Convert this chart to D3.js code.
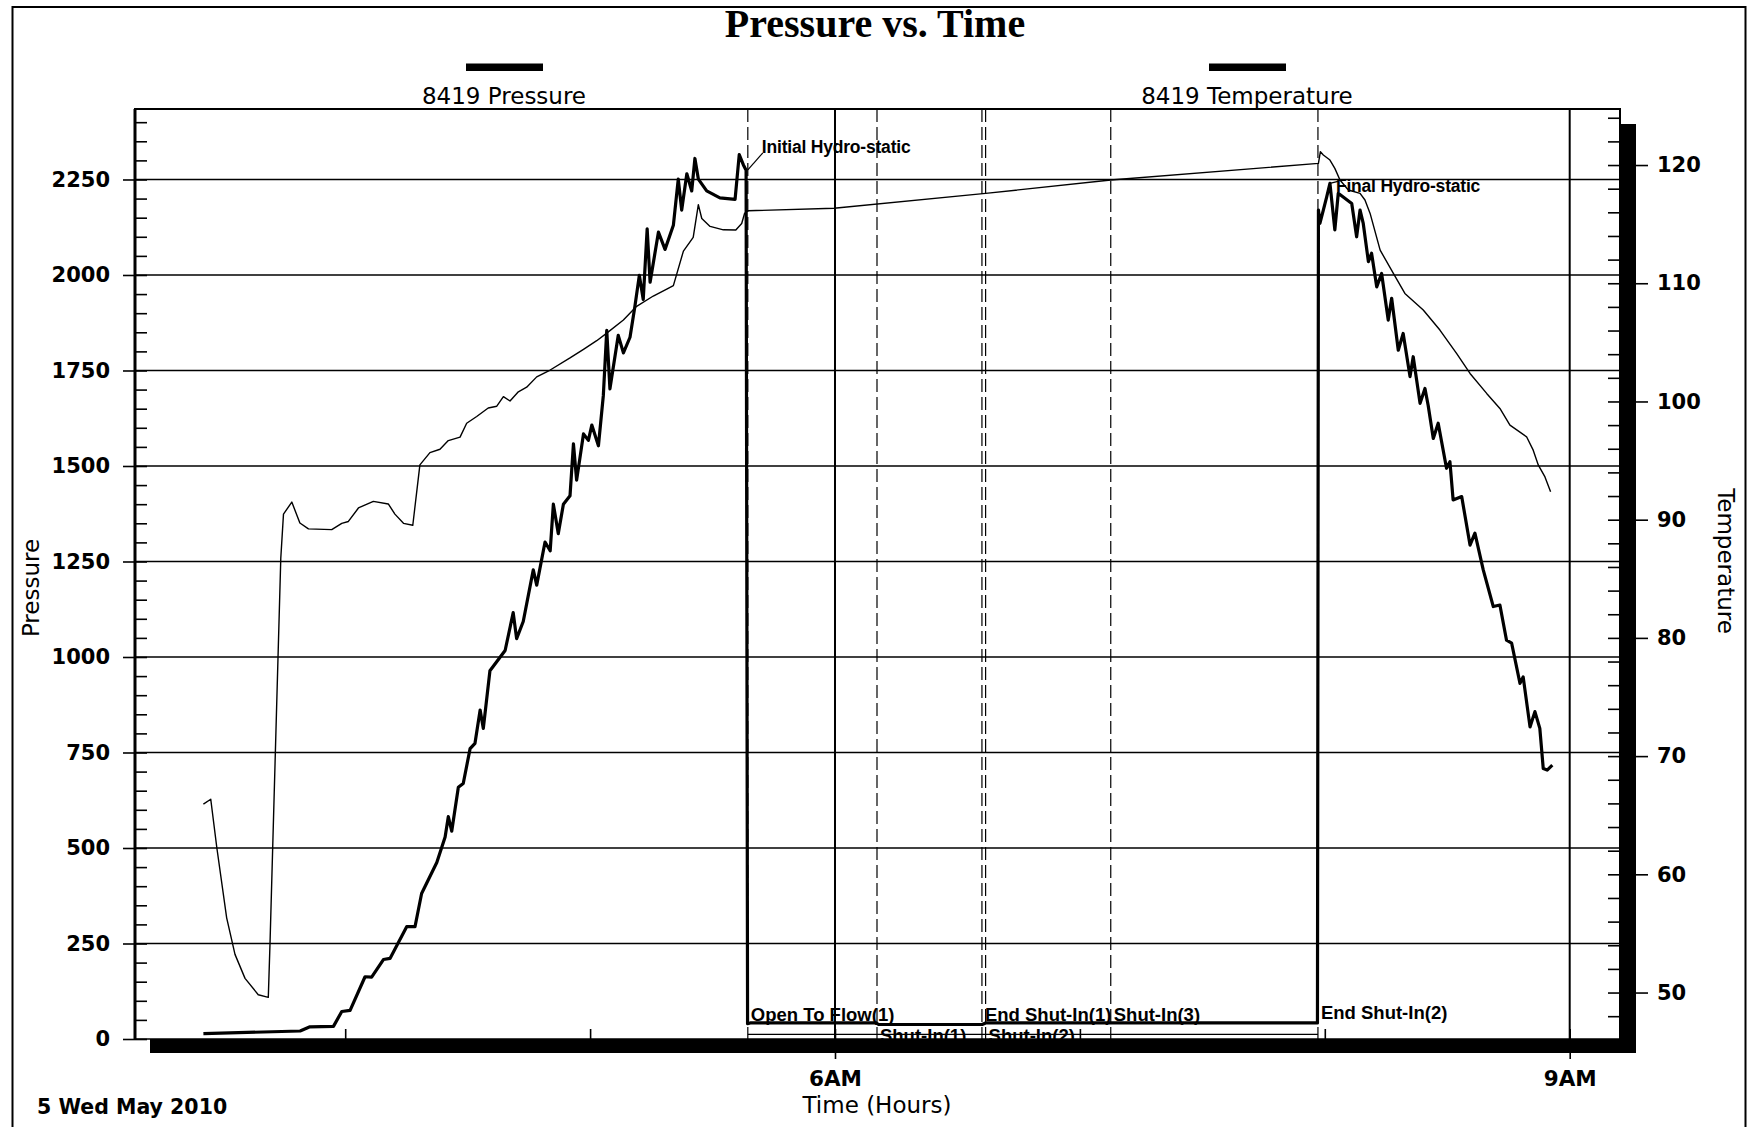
<!DOCTYPE html>
<html><head><meta charset="utf-8">
<script src="https://cdn.jsdelivr.net/npm/d3@7"></script>
<style>html,body{margin:0;padding:0;background:#fff}svg{display:block}</style>
</head><body>
<svg id="c" width="1748" height="1127"></svg>
<script>
// ---------- DATA (hours of 5 May 2010) ----------
const pressureSeries = [
[3.421,14],[3.816,21],[3.856,32],[3.952,33],[3.986,72],[4.020,75],[4.081,163],[4.108,162],[4.156,208],[4.183,211],
[4.251,294],[4.285,294],[4.312,381],[4.374,462],[4.408,529],[4.421,582],[4.435,544],[4.462,659],[4.482,669],[4.510,760],
[4.530,774],[4.551,861],[4.564,813],[4.591,964],[4.653,1017],[4.686,1116],[4.700,1048],[4.727,1093],[4.768,1228],[4.782,1188],
[4.816,1301],[4.837,1278],[4.850,1400],[4.870,1323],[4.891,1400],[4.918,1422],[4.932,1558],[4.945,1463],[4.973,1584],[4.993,1567],
[5.007,1607],[5.034,1553],[5.054,1684],[5.068,1855],[5.081,1702],[5.115,1842],[5.136,1796],[5.163,1837],[5.183,1918],[5.201,1999],
[5.217,1936],[5.233,2121],[5.245,1981],[5.279,2112],[5.306,2067],[5.340,2130],[5.360,2251],[5.374,2170],[5.395,2265],[5.415,2220],
[5.428,2305],[5.442,2251],[5.476,2220],[5.530,2202],[5.592,2198],[5.609,2315],[5.626,2288],[5.637,2274],[5.643,40],[5.654,42],
[6.168,42],[6.178,38],[6.601,38],[6.615,42],[7.970,42],[7.974,2170],[7.980,2135],[7.994,2170],[8.008,2205],[8.021,2240],
[8.041,2118],[8.055,2214],[8.110,2187],[8.130,2100],[8.144,2170],[8.157,2135],[8.178,2035],[8.191,2057],[8.212,1969],[8.232,2004],
[8.259,1882],[8.273,1939],[8.300,1803],[8.320,1847],[8.348,1734],[8.361,1786],[8.375,1725],[8.389,1664],[8.409,1703],[8.422,1659],
[8.443,1572],[8.463,1612],[8.497,1494],[8.511,1511],[8.524,1411],[8.559,1420],[8.593,1293],[8.613,1324],[8.647,1228],[8.688,1132],
[8.715,1136],[8.742,1044],[8.763,1036],[8.797,931],[8.810,948],[8.838,817],[8.858,857],[8.878,813],[8.892,708],[8.908,704],[8.929,717]
];
const temperatureSeries = [
[3.421,65.94],[3.451,66.35],[3.476,62.23],[3.516,56.32],[3.550,53.23],[3.591,51.20],[3.645,49.81],[3.686,49.59],[3.693,54.16],[3.737,86.74],
[3.748,90.47],[3.782,91.49],[3.815,89.72],[3.850,89.22],[3.945,89.16],[3.986,89.69],[4.013,89.85],[4.054,90.99],[4.115,91.55],[4.176,91.33],
[4.203,90.47],[4.238,89.69],[4.276,89.53],[4.305,94.64],[4.346,95.67],[4.387,95.96],[4.421,96.69],[4.469,96.98],[4.496,98.16],[4.537,98.73],
[4.584,99.45],[4.619,99.60],[4.646,100.41],[4.673,100.04],[4.707,100.82],[4.741,101.21],[4.782,102.08],[4.837,102.66],[4.918,103.68],[4.973,104.41],
[5.027,105.14],[5.068,105.78],[5.136,106.89],[5.190,108.05],[5.258,108.92],[5.313,109.51],[5.340,109.80],[5.381,112.72],[5.421,113.88],[5.442,116.65],
[5.456,115.48],[5.490,114.81],[5.544,114.52],[5.595,114.50],[5.619,115.05],[5.631,115.92],[5.645,116.13],[5.996,116.34],[6.615,117.60],[7.126,118.73],
[7.974,120.14],[7.982,121.13],[7.994,120.85],[8.021,120.42],[8.041,119.72],[8.062,118.73],[8.096,117.89],[8.144,117.60],[8.164,117.04],[8.185,115.91],
[8.226,112.80],[8.280,110.83],[8.327,109.14],[8.402,107.74],[8.470,106.04],[8.538,104.06],[8.593,102.37],[8.661,100.68],[8.715,99.41],[8.756,98.00],
[8.824,97.01],[8.851,95.88],[8.872,94.61],[8.899,93.62],[8.922,92.36]
];
const eventHours  = [5.644, 6.1715, 6.600, 6.615, 7.126, 7.972];
const eventLabels = ["Open To Flow(1)", "Shut-In(1)", "End Shut-In(1)", "Shut-In(2)", "Shut-In(3)", "End Shut-In(2)"];
const hydroLabels = ["Initial Hydro-static", "Final Hydro-static"];
const hydroPoints = [[5.644, 2275], [8.021, 2240]];
const flowBaseline = [[5.644, 12], [7.972, 12]];
const pressureTicks = [0, 250, 500, 750, 1000, 1250, 1500, 1750, 2000, 2250];
const temperatureTicks = [50, 60, 70, 80, 90, 100, 110, 120];
const timeTickHours = [4, 5, 6, 7, 8, 9];
const timeLabelHours = [6, 9];
const seriesNames = ["8419 Pressure", "8419 Temperature"];
const chartTitle = "Pressure vs. Time";
const dateLabel = "5 Wed May 2010";

// ---------- LAYOUT ----------
const svg = d3.select("#c");
const P = {l:135, r:1620, t:109, b:1039};
const hour = h => new Date(2010, 4, 5, 0, 0, 0, Math.round(h * 3600000));
const x  = d3.scaleTime().domain([hour(3.1417), hour(9.2054)]).range([P.l, P.r]);
const yP = d3.scaleLinear().domain([0, 2434.5]).range([P.b, P.t]);
const yT = d3.scaleLinear().domain([46.07, 124.74]).range([P.b, P.t]);

// outer page frame
svg.append("path").attr("d", "M12.5,1127 V7 H1745.5 V1127").attr("fill","none").attr("stroke","#000").attr("stroke-width",2);

// title & legend
svg.append("text").attr("x",875).attr("y",37).attr("text-anchor","middle")
  .attr("font-family","Liberation Serif").attr("font-weight","bold").attr("font-size",40).text(chartTitle);
const legendX = [504, 1247];
seriesNames.forEach((n,i)=>{
  svg.append("rect").attr("x",legendX[i]-38).attr("y",63.5).attr("width",77).attr("height",7.5).attr("fill","#000");
  svg.append("text").attr("x",legendX[i]).attr("y",104).attr("text-anchor","middle")
    .attr("font-family","DejaVu Sans").attr("font-size",23).text(n);
});

// grid
const grid = svg.append("g").attr("stroke","#000");
pressureTicks.forEach(v=>grid.append("line").attr("x1",P.l).attr("x2",P.r).attr("y1",yP(v)).attr("y2",yP(v)).attr("stroke-width",1.6));
timeLabelHours.forEach(h=>grid.append("line").attr("x1",x(hour(h))).attr("x2",x(hour(h))).attr("y1",P.t).attr("y2",P.b).attr("stroke-width",2));

// event lines
const ev = svg.append("g");
eventHours.forEach(h=>ev.append("line").attr("x1",x(hour(h))).attr("x2",x(hour(h))).attr("y1",P.t).attr("y2",P.b)
  .attr("stroke","#000").attr("stroke-width",1.2).attr("stroke-dasharray","13,5"));

// flow baseline
svg.append("path").datum(flowBaseline)
  .attr("d", d3.line().x(d=>x(hour(d[0]))).y(d=>yP(d[1])))
  .attr("fill","none").attr("stroke","#000").attr("stroke-width",1.2);

// curves
svg.append("path").datum(temperatureSeries)
  .attr("d", d3.line().x(d=>x(hour(d[0]))).y(d=>yT(d[1])))
  .attr("fill","none").attr("stroke","#000").attr("stroke-width",1.4).attr("stroke-linejoin","round");
svg.append("path").datum(pressureSeries)
  .attr("d", d3.line().x(d=>x(hour(d[0]))).y(d=>yP(d[1])))
  .attr("fill","none").attr("stroke","#000").attr("stroke-width",3.2).attr("stroke-linejoin","round");

// hydrostatic annotations
const annOff = [[15,-17,14,-17],[8,-2,6,9]]; // leader end dx,dy ; text dx,dy
hydroLabels.forEach((lab,i)=>{
  const px = x(hour(hydroPoints[i][0])), py = yP(hydroPoints[i][1]);
  const o = annOff[i];
  svg.append("line").attr("x1",px).attr("y1",py).attr("x2",px+o[0]).attr("y2",py+o[1]).attr("stroke","#000").attr("stroke-width",1.2);
  svg.append("text").attr("x",px+o[2]).attr("y",py+o[3]).attr("font-family","Liberation Sans").attr("font-weight","bold")
    .attr("font-size",17.5).attr("letter-spacing",-0.2).text(lab);
});

// event labels
const evBase = [1021, 1042, 1021, 1042, 1021, 1019];
eventLabels.forEach((lab,i)=>{
  svg.append("text").attr("x",x(hour(eventHours[i]))+3).attr("y",evBase[i])
    .attr("font-family","Liberation Sans").attr("font-weight","bold").attr("font-size",18.5).text(lab);
});

// frame
svg.append("path").attr("d",`M${P.l},${P.b} V${P.t} H${P.r} V${P.b}`).attr("fill","none").attr("stroke","#000").attr("stroke-width",2);
svg.append("line").attr("x1",P.l).attr("x2",P.l).attr("y1",P.t).attr("y2",P.b).attr("stroke","#000").attr("stroke-width",3);

function styleAxis(g, bold, size){
  g.select(".domain").remove();
  g.selectAll("line").attr("stroke","#000").attr("stroke-width",1.6);
  g.selectAll("text").attr("fill","#000").attr("font-family","DejaVu Sans").attr("font-weight",bold?"bold":"normal").attr("font-size",size);
}
// left axis
styleAxis(svg.append("g").attr("transform",`translate(${P.l},0)`)
  .call(d3.axisLeft(yP).tickValues(pressureTicks).tickSize(12).tickPadding(13).tickFormat(d3.format("d"))), true, 21);
styleAxis(svg.append("g").attr("transform",`translate(${P.l},0)`)
  .call(d3.axisRight(yP).tickValues(d3.range(0, 2401, 50)).tickSize(12).tickFormat(()=>"")), true, 21);
// right axis
styleAxis(svg.append("g").attr("transform",`translate(${P.r},0)`)
  .call(d3.axisRight(yT).tickValues(temperatureTicks).tickSize(28).tickPadding(9).tickFormat(d3.format("d"))), true, 21);
styleAxis(svg.append("g").attr("transform",`translate(${P.r},0)`)
  .call(d3.axisLeft(yT).tickValues(d3.range(48, 125, 2)).tickSize(12).tickFormat(()=>"")), true, 21);
// bottom axis
styleAxis(svg.append("g").attr("transform",`translate(0,${P.b})`)
  .call(d3.axisBottom(x).tickValues(timeLabelHours.map(hour)).tickSize(20).tickPadding(12).tickFormat(d3.timeFormat("%-I%p"))), true, 21.5);
styleAxis(svg.append("g").attr("transform",`translate(0,${P.b})`)
  .call(d3.axisTop(x).tickValues(timeTickHours.map(hour)).tickSize(10).tickFormat(()=>"")), true, 21);

// shadow of the plot frame
svg.append("rect").attr("x",P.r).attr("y",P.t+15).attr("width",16).attr("height",P.b-P.t-1).attr("fill","#000");
svg.append("rect").attr("x",P.l+15).attr("y",P.b).attr("width",P.r-P.l+1).attr("height",14).attr("fill","#000");

// axis titles
svg.append("text").attr("transform","translate(39,588) rotate(-90)").attr("text-anchor","middle")
  .attr("font-family","DejaVu Sans").attr("font-size",23).text("Pressure");
svg.append("text").attr("transform","translate(1718,561) rotate(90)").attr("text-anchor","middle")
  .attr("font-family","DejaVu Sans").attr("font-size",23).text("Temperature");
svg.append("text").attr("x",877).attr("y",1113).attr("text-anchor","middle")
  .attr("font-family","DejaVu Sans").attr("font-size",23).text("Time (Hours)");
svg.append("text").attr("x",37).attr("y",1114).attr("font-family","DejaVu Sans").attr("font-weight","bold")
  .attr("font-size",20.5).text(dateLabel);
</script>
</body></html>
